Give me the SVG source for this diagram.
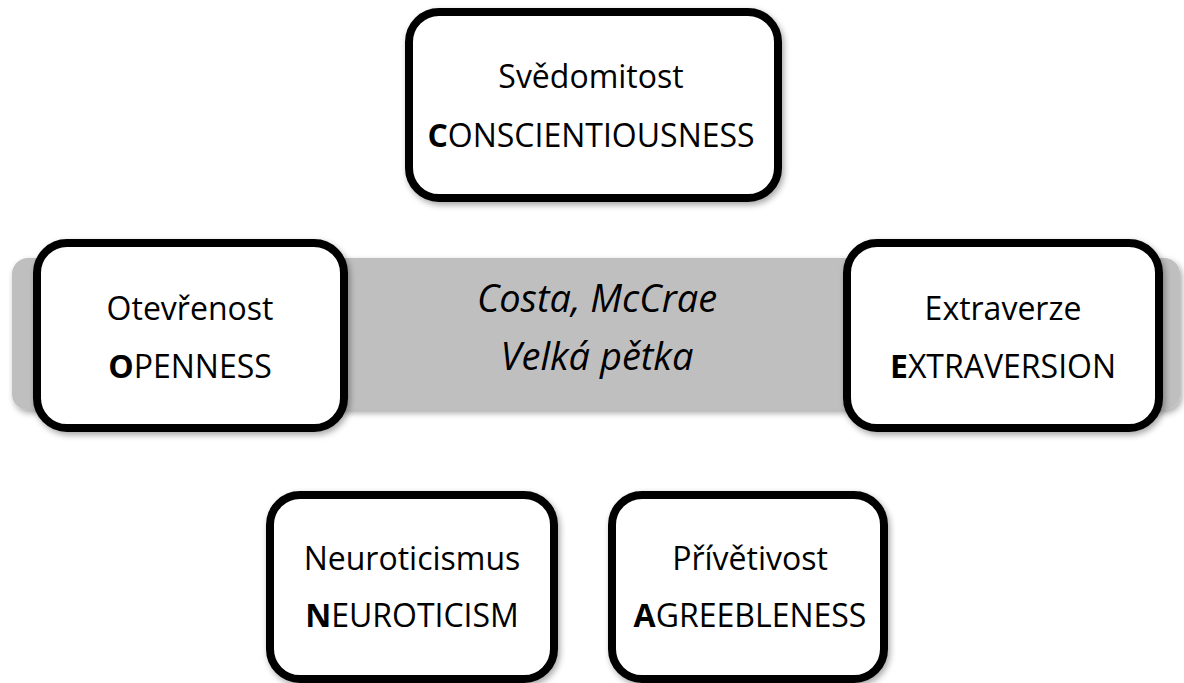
<svg xmlns="http://www.w3.org/2000/svg" width="1184" height="683" viewBox="0 0 1184 683">
  <defs>
    <filter id="shadow" x="-10%" y="-10%" width="120%" height="130%">
      <feDropShadow dx="2" dy="3" stdDeviation="3" flood-color="#000" flood-opacity="0.35"/>
    </filter>
  </defs>
  <style>
    .box { fill: #ffffff; stroke: #000000; stroke-width: 8; filter: url(#shadow); }
    .band { fill: #bfbfbf; filter: url(#shadow); }
    .t { font-family: "Open Sans", "Noto Sans", "Liberation Sans", sans-serif; font-size: 32px; fill: #000; text-anchor: middle; }
    .b { font-weight: bold; }
    .it { font-family: "Open Sans", "Noto Sans", "Liberation Sans", sans-serif; font-size: 38px; font-style: italic; fill: #000; text-anchor: middle; }
  </style>
  <rect width="1184" height="683" fill="#ffffff"/>

  <!-- central band: authors and model name -->
  <g id="band">
    <rect class="band" x="12" y="258" width="1168" height="152" rx="16"/>
    <text class="it" x="597" y="312">Costa, McCrae</text>
    <text class="it" x="597" y="370">Velká pětka</text>
  </g>

  <g id="conscientiousness">
    <rect class="box" x="409" y="12" width="369" height="186" rx="30"/>
    <text class="t" x="591" y="88">Svědomitost</text>
    <text class="t" x="591" y="147"><tspan class="b">C</tspan>ONSCIENTIOUSNESS</text>
  </g>

  <g id="openness">
    <rect class="box" x="37" y="243" width="307" height="185" rx="30"/>
    <text class="t" x="190" y="320">Otevřenost</text>
    <text class="t" x="190" y="378"><tspan class="b">O</tspan>PENNESS</text>
  </g>

  <g id="extraversion">
    <rect class="box" x="847" y="243" width="312" height="185" rx="30"/>
    <text class="t" x="1003" y="320">Extraverze</text>
    <text class="t" x="1003" y="378"><tspan class="b">E</tspan>XTRAVERSION</text>
  </g>

  <g id="neuroticism">
    <rect class="box" x="270" y="495" width="284" height="184" rx="30"/>
    <text class="t" x="412" y="570">Neuroticismus</text>
    <text class="t" x="412" y="627"><tspan class="b">N</tspan>EUROTICISM</text>
  </g>

  <g id="agreeableness">
    <rect class="box" x="612" y="495" width="272" height="184" rx="30"/>
    <text class="t" x="750" y="570">Přívětivost</text>
    <text class="t" x="750" y="627"><tspan class="b">A</tspan>GREEBLENESS</text>
  </g>

  <g id="connectors"></g>
</svg>
